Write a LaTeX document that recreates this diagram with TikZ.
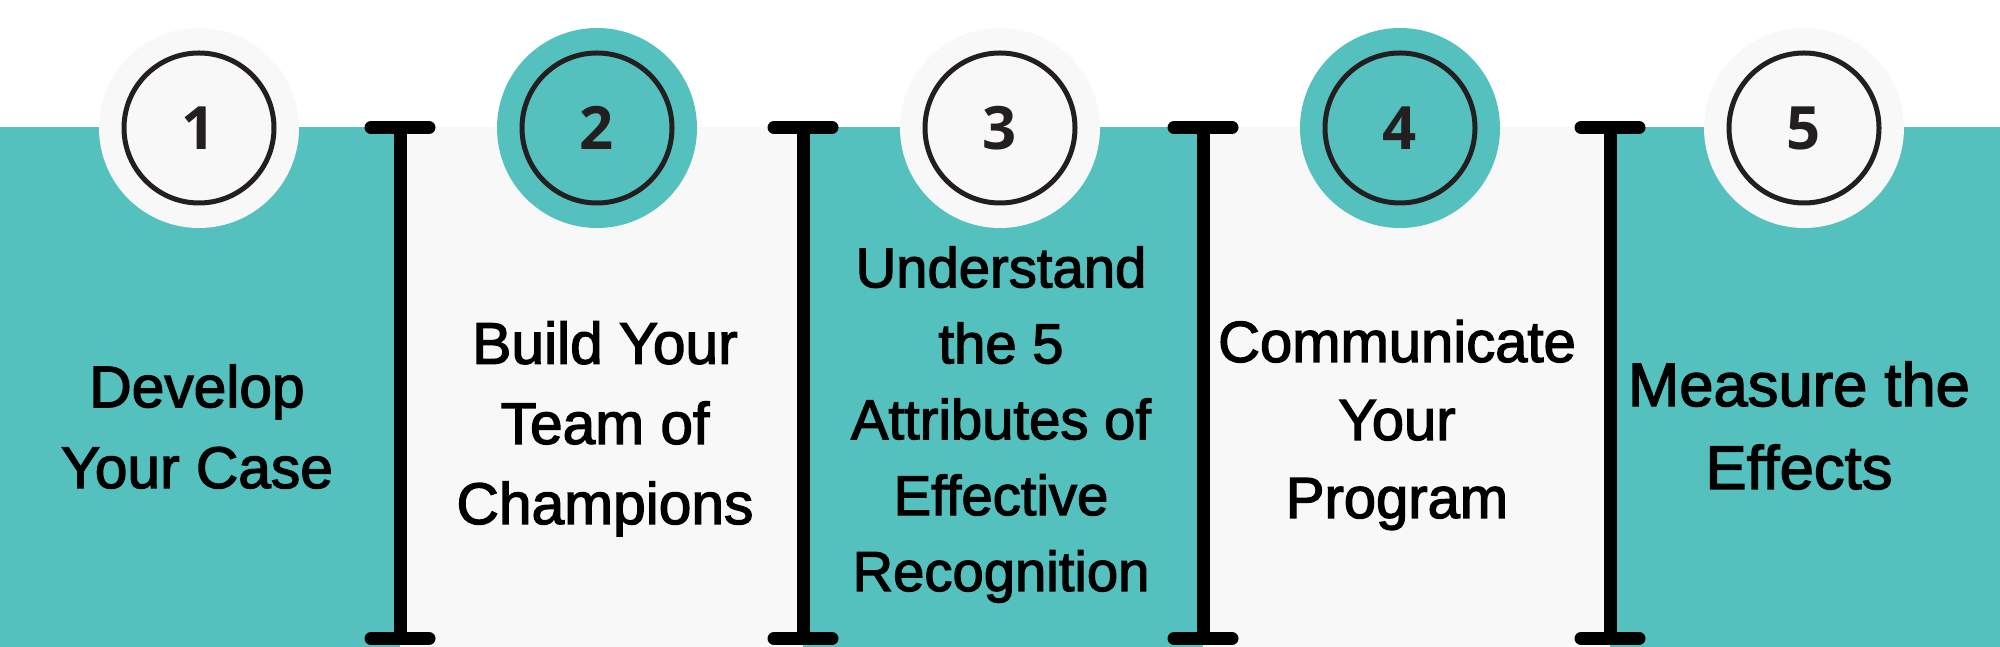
\documentclass[tikz,border=0pt]{standalone}
\usepackage{fontspec}
\newfontfamily\labelfont{Liberation Sans}[BoldFont={Liberation Sans}, BoldFeatures={FakeBold=2.2}]
\newfontfamily\numfont{Open Sans}
\definecolor{lagoon}{HTML}{55C1BE}
\definecolor{paper}{HTML}{F8F8F8}
\definecolor{ink}{HTML}{231F20}
\begin{document}
\begin{tikzpicture}[
    halo/.style={circle, minimum size=2cm, inner sep=0pt, fill=#1},
    ring/.style={circle, minimum size=1.5cm, inner sep=0pt, draw=ink,
      line width=0.05cm, fill=#1, text=ink,
      font=\numfont\bfseries\fontsize{17}{17}\selectfont},
    steptext/.style={align=center, inner sep=0pt, anchor=base, text=black},
    bar/.style={line width=0.13cm},
    barcap/.style={line width=0.13cm, line cap=round}
  ]
  \useasboundingbox (0,0) rectangle (20,6.47);
  % panels
  \fill[lagoon] (0,0) rectangle (4.00,5.20);
  \fill[paper] (4.00,0) rectangle (8.03,5.20);
  \fill[lagoon] (8.03,0) rectangle (12.03,5.20);
  \fill[paper] (12.03,0) rectangle (16.10,5.20);
  \fill[lagoon] (16.10,0) rectangle (20,5.20);
  % numbered circles
  \node[halo=paper] (c1) at (1.99,5.19) {};
  \node[ring=paper] (n1) at (c1) {1};
  \node[halo=lagoon] (c2) at (5.97,5.19) {};
  \node[ring=lagoon] (n2) at (c2) {2};
  \node[halo=paper] (c3) at (10.00,5.19) {};
  \node[ring=paper] (n3) at (c3) {3};
  \node[halo=lagoon] (c4) at (14.00,5.19) {};
  \node[ring=lagoon] (n4) at (c4) {4};
  \node[halo=paper] (c5) at (18.04,5.19) {};
  \node[ring=paper] (n5) at (c5) {5};
  % dividers
  \coordinate (t1) at (4.00,5.195);
  \coordinate (b1) at (4.00,0.085);
  \coordinate (t2) at (8.03,5.195);
  \coordinate (b2) at (8.03,0.085);
  \coordinate (t3) at (12.03,5.195);
  \coordinate (b3) at (12.03,0.085);
  \coordinate (t4) at (16.10,5.195);
  \coordinate (b4) at (16.10,0.085);
  \begin{scope}[black]
    \draw[bar] (t1) -- (b1);
    \draw[bar] (t2) -- (b2);
    \draw[bar] (t3) -- (b3);
    \draw[bar] (t4) -- (b4);
    \draw[barcap] ([xshift=-0.29cm]t1) -- ([xshift=0.29cm]t1);
    \draw[barcap] ([xshift=-0.29cm]b1) -- ([xshift=0.29cm]b1);
    \draw[barcap] ([xshift=-0.29cm]t2) -- ([xshift=0.29cm]t2);
    \draw[barcap] ([xshift=-0.29cm]b2) -- ([xshift=0.29cm]b2);
    \draw[barcap] ([xshift=-0.29cm]t3) -- ([xshift=0.29cm]t3);
    \draw[barcap] ([xshift=-0.29cm]b3) -- ([xshift=0.29cm]b3);
    \draw[barcap] ([xshift=-0.29cm]t4) -- ([xshift=0.29cm]t4);
    \draw[barcap] ([xshift=-0.29cm]b4) -- ([xshift=0.29cm]b4);
  \end{scope}
  % step labels
  \node[steptext, font=\labelfont\bfseries\fontsize{16.7}{23}\selectfont]
    (s1) at (1.97,1.59) {Develop\\Your Case};
  \node[steptext, font=\labelfont\bfseries\fontsize{16.7}{22.8}\selectfont]
    (s2) at (6.05,1.23) {Build Your\\Team of\\Champions};
  \node[steptext, font=\labelfont\bfseries\fontsize{16}{21.6}\selectfont]
    (s3) at (10.01,0.56) {Understand\\the 5\\Attributes of\\Effective\\Recognition};
  \node[steptext, font=\labelfont\bfseries\fontsize{16.5}{22.2}\selectfont]
    (s4) at (13.97,1.29) {Communicate\\Your\\Program};
  \node[steptext, font=\labelfont\bfseries\fontsize{17.5}{23.6}\selectfont]
    (s5) at (17.99,1.58) {Measure the\\Effects};
\end{tikzpicture}
\end{document}
